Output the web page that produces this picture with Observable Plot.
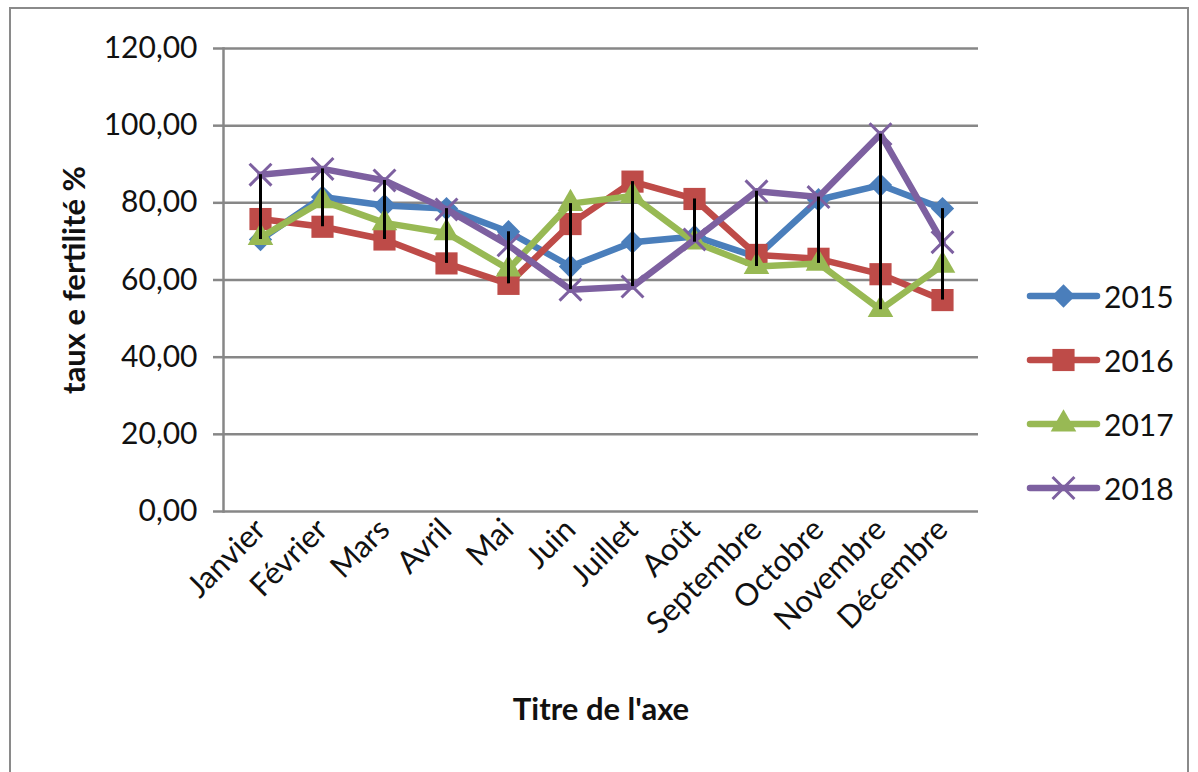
<!DOCTYPE html>
<html>
<head>
<meta charset="utf-8">
<script src="https://cdn.jsdelivr.net/npm/d3@7"></script>
<script src="https://cdn.jsdelivr.net/npm/@observablehq/plot@0.6"></script>
<style>
  html, body { margin: 0; padding: 0; background: #fff; }
  #wrap { position: relative; width: 1198px; height: 772px; overflow: hidden; font-family: Lato, "Open Sans", sans-serif; }
  #border { position: absolute; left: 9px; top: 7px; width: 1180px; height: 800px; border: 2px solid #8a8a8a; box-sizing: border-box; }
  #chart { position: absolute; left: 0; top: 0; }
  .lg { position: absolute; left: 1026px; height: 40px; display: flex; align-items: center; }
  .lg span { font-size: 30px; color: #111; margin-left: 2px; }
</style>
</head>
<body>
<div id="wrap">
  <div id="border"></div>
  <div id="chart"></div>
  <div id="legend"></div>
</div>
<script>
const months = ["Janvier","Février","Mars","Avril","Mai","Juin","Juillet","Août","Septembre","Octobre","Novembre","Décembre"];
const years = ["2015","2016","2017","2018"];
const v2015 = [70.5, 81.5, 79.3, 78.5, 72.5, 63.5, 69.8, 71.3, 66.0, 80.8, 84.6, 78.5];
const v2016 = [75.8, 73.8, 70.5, 64.3, 59.0, 74.5, 85.5, 81.0, 66.5, 65.5, 61.5, 54.8];
const v2017 = [71.0, 80.5, 74.8, 72.2, 62.8, 79.8, 81.8, 69.8, 63.5, 64.3, 52.3, 63.8];
const v2018 = [87.3, 88.8, 85.8, 78.3, 69.0, 57.5, 58.3, 70.5, 83.0, 81.5, 97.8, 69.8];
const yTicks = [0, 20, 40, 60, 80, 100, 120];
const colors = ["#4A7EBB", "#BE4B48", "#98B954", "#7D60A0"];
const symbols = ["diamond2", "square", "triangle", "times"];
const radii = [10.5, 12.5, 9.5, 10];
const d3Symbols = [d3.symbolDiamond2, d3.symbolSquare, d3.symbolTriangle, d3.symbolTimes];

const series = [v2015, v2016, v2017, v2018];
const rows = years.flatMap((yr, i) => months.map((m, j) => ({month: m, year: yr, value: series[i][j]})));
const hl = months.map((m, j) => ({month: m, lo: d3.min(series, s => s[j]), hi: d3.max(series, s => s[j])}));
const fmt = d => d.toFixed(2).replace(".", ",");
const grey = "#878787";

const seriesMarks = years.flatMap((yr, i) => {
  const data = rows.filter(r => r.year === yr);
  const isStroke = symbols[i] === "times";
  return [
    Plot.line(data, {x: "month", y: "value", stroke: colors[i], strokeWidth: 6.5, strokeLinejoin: "round", strokeLinecap: "round"}),
    Plot.dot(data, isStroke
      ? {x: "month", y: "value", symbol: () => symbols[i], r: radii[i], stroke: colors[i], strokeWidth: 3, fill: "none"}
      : {x: "month", y: "value", symbol: () => symbols[i], r: radii[i], fill: colors[i], stroke: "none"})
  ];
});

const chart = Plot.plot({
  width: 1198,
  height: 772,
  marginLeft: 223,
  marginRight: 220,
  marginTop: 48,
  marginBottom: 261,
  style: {fontFamily: "Lato, 'Open Sans', sans-serif", background: "transparent", color: "#111"},
  x: {type: "point", domain: months, padding: 0.5},
  y: {domain: [0, 120]},
  symbol: {type: "identity"},
  marks: [
    Plot.gridY(yTicks, {stroke: grey, strokeOpacity: 1, strokeWidth: 2.5}),
    Plot.axisY(yTicks, {tickFormat: fmt, tickSize: 10, tickPadding: 16, fontSize: 30, stroke: grey, strokeWidth: 2.5, label: null}),
    Plot.frame({anchor: "left", stroke: grey, strokeWidth: 2.5}),
    Plot.axisX({tickRotate: -45, tickSize: 0, tickPadding: 13, fontSize: 31, label: null}),
    ...seriesMarks,
    Plot.ruleX(hl, {x: "month", y1: "lo", y2: "hi", stroke: "#000", strokeWidth: 3}),
    Plot.text(["taux e fertilité %"], {text: d => d, frameAnchor: "left", textAnchor: "middle", dx: -148, rotate: -90, fontWeight: "bold", fontSize: 31, fill: "#111"}),
    Plot.text(["Titre de l'axe"], {text: d => d, frameAnchor: "bottom", textAnchor: "middle", dy: 208, fontWeight: "bold", fontSize: 31, fill: "#111"})
  ]
});
document.getElementById("chart").appendChild(chart);

// Legend
const legend = document.getElementById("legend");
const legendTops = [296, 360, 424, 488];
years.forEach((yr, i) => {
  const div = document.createElement("div");
  div.className = "lg";
  div.style.top = (legendTops[i] - 20) + "px";
  const svg = d3.create("svg").attr("width", 76).attr("height", 40);
  svg.append("line").attr("x1", 4).attr("x2", 71).attr("y1", 20).attr("y2", 20)
    .attr("stroke", colors[i]).attr("stroke-width", 6.5).attr("stroke-linecap", "round");
  const p = d3.symbol(d3Symbols[i], Math.PI * radii[i] * radii[i])();
  const path = svg.append("path").attr("d", p).attr("transform", "translate(37.5,20)");
  if (symbols[i] === "times") path.attr("fill", "none").attr("stroke", colors[i]).attr("stroke-width", 3);
  else path.attr("fill", colors[i]);
  div.appendChild(svg.node());
  const span = document.createElement("span");
  span.textContent = yr;
  div.appendChild(span);
  legend.appendChild(div);
});
</script>
</body>
</html>
